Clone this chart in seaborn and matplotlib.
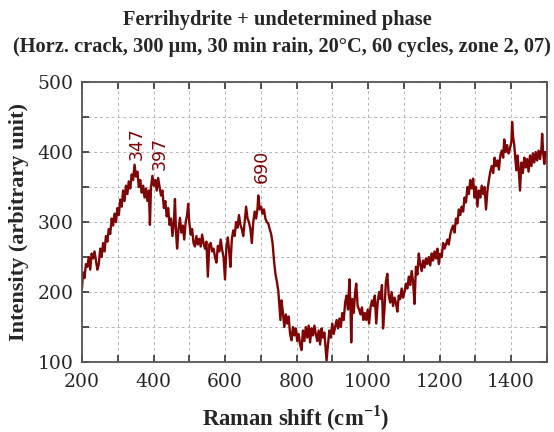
import numpy as np
import pandas as pd
import matplotlib
matplotlib.use("Agg")
import matplotlib.pyplot as plt
import seaborn as sns
from matplotlib.ticker import MultipleLocator

# ---- data ----
raman_shift = [
    200, 203, 207, 211, 215, 219, 223, 227, 231, 235, 239, 243, 247, 251, 255, 259, 263, 267, 271, 275,
    279, 283, 287, 291, 295, 299, 303, 307, 311, 315, 319, 323, 327, 331, 335, 339, 343, 347, 351, 355,
    359, 363, 367, 371, 375, 379, 383, 387, 390, 393, 397, 401, 405, 409, 413, 417, 421, 425, 429, 433,
    437, 441, 445, 449, 453, 457, 460, 463, 466, 470, 474, 478, 482, 486, 490, 494, 497, 500, 504, 508,
    512, 516, 520, 524, 528, 532, 536, 540, 544, 548, 552, 556, 560, 564, 568, 572, 576, 580, 584, 588,
    592, 596, 600, 604, 608, 612, 615, 619, 623, 627, 631, 635, 639, 643, 647, 651, 655, 659, 663, 667,
    671, 675, 679, 683, 687, 691, 693, 697, 701, 705, 709, 713, 717, 721, 725, 729, 733, 737, 741, 745,
    749, 752, 755, 758, 762, 766, 770, 774, 778, 782, 786, 790, 794, 798, 802, 806, 810, 814, 818, 822,
    826, 830, 834, 838, 842, 846, 850, 854, 858, 862, 866, 870, 874, 878, 882, 884, 888, 892, 896, 900,
    904, 908, 912, 916, 920, 924, 928, 932, 936, 940, 944, 948, 951, 953, 956, 960, 964, 967, 971, 975,
    979, 983, 987, 991, 995, 999, 1003, 1007, 1011, 1015, 1019, 1023, 1027, 1031, 1035, 1039, 1042, 1046, 1050, 1054,
    1058, 1062, 1066, 1070, 1074, 1078, 1082, 1086, 1090, 1094, 1098, 1102, 1106, 1110, 1114, 1118, 1122, 1126, 1130, 1134,
    1138, 1142, 1146, 1150, 1154, 1158, 1162, 1166, 1170, 1174, 1178, 1182, 1186, 1190, 1194, 1198, 1202, 1206, 1210, 1214,
    1218, 1222, 1226, 1230, 1234, 1238, 1242, 1246, 1250, 1254, 1258, 1262, 1266, 1270, 1274, 1278, 1282, 1286, 1290, 1294,
    1298, 1302, 1306, 1310, 1314, 1318, 1322, 1326, 1330, 1334, 1338, 1342, 1346, 1350, 1354, 1358, 1362, 1366, 1370, 1374,
    1378, 1381, 1385, 1389, 1393, 1397, 1401, 1403, 1406, 1409, 1412, 1415, 1418, 1421, 1425, 1429, 1433, 1437, 1441, 1445,
    1449, 1453, 1457, 1461, 1465, 1469, 1473, 1477, 1481, 1485, 1487, 1490, 1493, 1496, 1500,
]
intensity = [
    205, 228, 220, 240, 236, 250, 232, 255, 248, 258, 245, 232, 240, 262, 250, 270, 258, 280, 272, 290,
    283, 305, 295, 312, 300, 320, 310, 332, 322, 345, 330, 352, 340, 358, 348, 368, 360, 382, 365, 372,
    350, 360, 342, 352, 335, 348, 330, 345, 296, 350, 366, 352, 360, 345, 363, 350, 338, 345, 320, 330,
    308, 320, 296, 305, 280, 300, 333, 285, 262, 290, 306, 285, 295, 275, 300, 310, 326, 300, 282, 290,
    270, 265, 280, 268, 276, 265, 282, 270, 262, 272, 222, 268, 270, 258, 262, 250, 242, 266, 258, 275,
    260, 250, 218, 265, 278, 256, 236, 275, 288, 280, 300, 292, 310, 296, 290, 280, 300, 322, 305, 300,
    290, 270, 300, 315, 305, 320, 338, 318, 322, 312, 318, 305, 300, 298, 290, 283, 270, 245, 226, 215,
    202, 182, 160, 188, 170, 150, 168, 155, 165, 140, 131, 150, 138, 148, 130, 140, 125, 117, 145, 130,
    150, 135, 152, 128, 148, 138, 152, 140, 130, 145, 125, 148, 135, 142, 115, 102, 125, 145, 135, 155,
    140, 150, 160, 148, 162, 150, 170, 160, 185, 195, 175, 218, 180, 128, 190, 170, 200, 212, 180, 175,
    168, 178, 160, 170, 160, 175, 155, 178, 188, 180, 195, 155, 185, 200, 190, 210, 148, 175, 215, 226,
    195, 185, 200, 180, 192, 185, 172, 195, 190, 205, 192, 200, 212, 205, 222, 210, 230, 215, 183, 236,
    225, 255, 240, 230, 245, 235, 248, 240, 250, 238, 255, 245, 258, 248, 262, 240, 255, 250, 270, 262,
    268, 275, 268, 282, 290, 295, 285, 305, 298, 318, 310, 322, 315, 335, 328, 350, 340, 360, 348, 362,
    335, 350, 322, 345, 335, 352, 340, 350, 318, 345, 360, 372, 380, 370, 392, 380, 388, 375, 395, 402,
    392, 418, 400, 410, 398, 405, 415, 443, 420, 410, 390, 374, 395, 380, 345, 385, 370, 392, 378, 390,
    372, 395, 380, 398, 385, 400, 388, 402, 390, 405, 426, 398, 383, 400, 395,
]
peak_positions = [347, 397, 690]
peak_labels = ["347", "397", "690"]

title_line1 = "Ferrihydrite + undetermined phase"
title_line2 = "(Horz. crack, 300 \u03bcm, 30 min rain, 20\u00b0C, 60 cycles, zone 2, 07)"
x_label = "Raman shift (cm$^{\\mathbf{-1}}$)"
y_label = "Intensity (arbitrary unit)"

df = pd.DataFrame({"shift": raman_shift, "intensity": intensity})

sns.set_style("ticks")
plt.rcParams["font.family"] = ["DejaVu Serif"]
plt.rcParams["mathtext.fontset"] = "custom"
plt.rcParams["mathtext.rm"] = "Liberation Serif"
plt.rcParams["mathtext.bf"] = "Liberation Serif:bold"

line_color = "#7d0505"
bold_serif = ["Liberation Serif", "DejaVu Serif"]

fig = plt.figure(figsize=(5.54, 4.32), dpi=100)
ax = fig.add_axes([0.148, 0.162, 0.839, 0.648])

sns.lineplot(data=df, x="shift", y="intensity", color=line_color, linewidth=1.7,
             sort=False, estimator=None, ax=ax)

ax.set_xlim(200, 1500)
ax.set_ylim(100, 500)
ax.xaxis.set_major_locator(MultipleLocator(200))
ax.xaxis.set_minor_locator(MultipleLocator(100))
ax.yaxis.set_major_locator(MultipleLocator(100))
ax.yaxis.set_minor_locator(MultipleLocator(50))
ax.grid(which="both", color="#b5b5b5", linestyle=(0, (3, 3)), linewidth=0.7)
ax.set_axisbelow(True)

ax.tick_params(which="both", direction="in", top=True, right=True,
               length=5, width=1.2, color="#333333", labelsize=13.5)
ax.tick_params(axis="x", which="both", pad=8)
ax.tick_params(axis="y", which="both", pad=6)
for s in ax.spines.values():
    s.set_color("#555555")
    s.set_linewidth(1.3)

ax.set_xlabel(x_label, fontsize=16.3, fontweight="bold", family=bold_serif)
ax.xaxis.set_label_coords(0.46, -0.148)
ax.set_ylabel(y_label, fontsize=16, fontweight="bold", family=bold_serif, labelpad=6)

# label offsets (layout only)
label_dx = [5, 20, 13]
label_y = [388, 374, 356]
for xp, lab, dx, yp in zip(peak_positions, peak_labels, label_dx, label_y):
    ax.text(xp + dx, yp, lab, rotation=90, ha="center", va="bottom", color=line_color,
            fontsize=12.5, family=["DejaVu Sans"])

fig.text(0.5, 0.953, title_line1, ha="center", va="center", fontsize=14.7,
         fontweight="bold", family=bold_serif)
fig.text(0.509, 0.892, title_line2, ha="center", va="center", fontsize=14.7,
         fontweight="bold", family=bold_serif)

fig.savefig("out.png", dpi=100)
